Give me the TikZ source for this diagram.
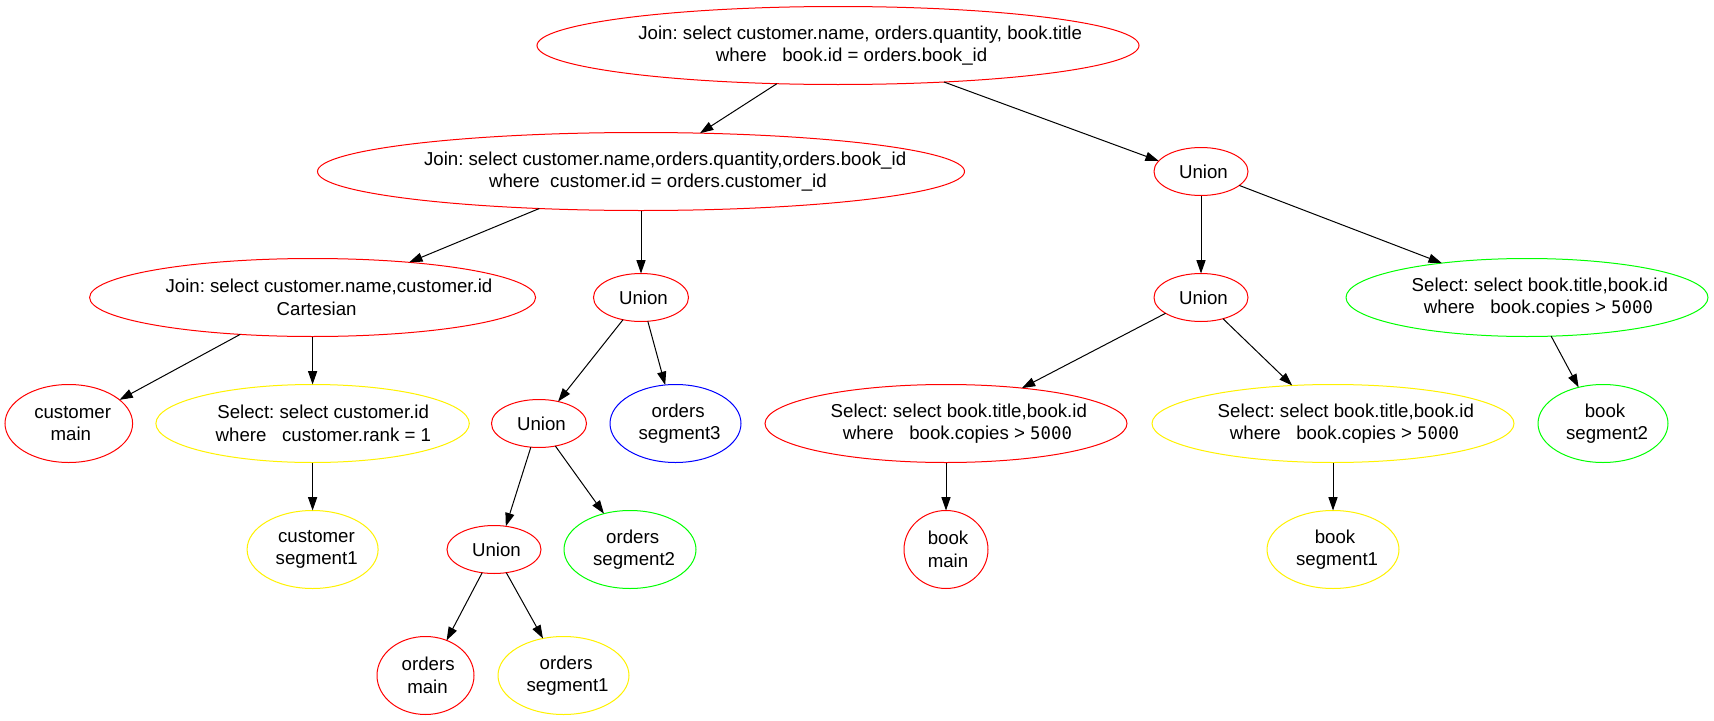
\documentclass[tikz,border=0pt]{standalone}
\usepackage{fontspec}
\usetikzlibrary{shapes.geometric,arrows.meta}
\newfontfamily\gvmain{Liberation Sans}
\newfontfamily\gvmono{DejaVu Sans Mono}
% each label line is set with zero width, slightly shifted to the right
\newlength\gvw
\newcommand\gvline[1]{\settowidth{\gvw}{#1}\makebox[0pt]{\hspace*{0.1\gvw}#1}}
\newcommand\gvnum[1]{{\gvmono\fontsize{13}{16.8}\selectfont #1}}
\tikzset{
  gv/.style={ellipse, draw, line width=0.75pt, inner sep=0pt, outer sep=0pt,
    align=center, text=black, font=\gvmain\fontsize{14}{16.8}\selectfont\frenchspacing},
  sz/.style 2 args={minimum width=#1*1.5pt, minimum height=#2*1.5pt},
  conn/.style={draw, line width=0.75pt, -{Triangle[length=10pt,width=6.8pt]}}
}
\begin{document}
\begin{tikzpicture}[x=0.75pt,y=-0.75pt]
\useasboundingbox[fill=white] (0,0) rectangle (1714,721);

% rank 0
\node[gv, draw=red, sz={301}{39}] (j1) at (838,45.5)
  {\gvline{Join: select customer.name, orders.quantity, book.title}\\
   \gvline{where\ \ \ book.id = orders.book\_id}};
% rank 1
\node[gv, draw=red, sz={323.5}{39}] (j2) at (641,171.5)
  {\gvline{Join: select customer.name,orders.quantity,orders.book\_id}\\
   \gvline{where\ \ customer.id = orders.customer\_id}};
\node[gv, draw=red, sz={47}{24}] (u1) at (1201,171.5) {\gvline{Union}};
% rank 2
\node[gv, draw=red, sz={223}{39}] (j3) at (312.6,297.5)
  {\gvline{Join: select customer.name,customer.id}\\\gvline{Cartesian}};
\node[gv, draw=red, sz={47.5}{24}] (u2) at (641,297.5) {\gvline{Union}};
\node[gv, draw=red, sz={47}{24}] (u3) at (1201,297.5) {\gvline{Union}};
\node[gv, draw=green, sz={181}{39}] (s1) at (1527,297.5)
  {\gvline{Select: select book.title,book.id}\\
   \gvline{where\ \ \ book.copies > \gvnum{5000}}};
% rank 3
\node[gv, draw=red, sz={63.8}{39}] (cm) at (68.8,423.5)
  {\gvline{customer}\\\gvline{main}};
\node[gv, draw=yellow, sz={156.7}{39}] (sc) at (312.6,423.5)
  {\gvline{Select: select customer.id}\\
   \gvline{where\ \ \ customer.rank = 1}};
\node[gv, draw=red, sz={47.5}{24}] (u4) at (539,423.5) {\gvline{Union}};
\node[gv, draw=blue, sz={65.5}{39}] (o3) at (675.5,423.5)
  {\gvline{orders}\\\gvline{segment3}};
\node[gv, draw=red, sz={181}{39}] (sb1) at (946,423.5)
  {\gvline{Select: select book.title,book.id}\\
   \gvline{where\ \ \ book.copies > \gvnum{5000}}};
\node[gv, draw=yellow, sz={181}{39}] (sb2) at (1333,423.5)
  {\gvline{Select: select book.title,book.id}\\
   \gvline{where\ \ \ book.copies > \gvnum{5000}}};
\node[gv, draw=green, sz={65}{39}] (b2) at (1603,423.5)
  {\gvline{book}\\\gvline{segment2}};
% rank 4
\node[gv, draw=yellow, sz={65.5}{39}] (cs1) at (312.6,549.5)
  {\gvline{customer}\\\gvline{segment1}};
\node[gv, draw=red, sz={47}{24}] (u5) at (494,549.5) {\gvline{Union}};
\node[gv, draw=green, sz={66}{39}] (o2) at (630,549.5)
  {\gvline{orders}\\\gvline{segment2}};
\node[gv, draw=red, sz={42}{39}] (bm) at (946,549.5)
  {\gvline{book}\\\gvline{main}};
\node[gv, draw=yellow, sz={66}{39}] (b1) at (1333,549.5)
  {\gvline{book}\\\gvline{segment1}};
% rank 5
\node[gv, draw=red, sz={48.5}{39}] (om) at (425.5,675.5)
  {\gvline{orders}\\\gvline{main}};
\node[gv, draw=yellow, sz={65.5}{39}] (o1) at (563.5,675.5)
  {\gvline{orders}\\\gvline{segment1}};

% connectors
\draw[conn] (j1.212) -- (j2.33);
\draw[conn] (j1.-19.4) -- (u1.166);
\draw[conn] (j2.200.8) -- (j3.20.6);
\draw[conn] (j2.south) -- (u2.north);
\draw[conn] (u1.south) -- (u3.north);
\draw[conn] (u1.-20.7) -- (s1.158);
\draw[conn] (j3.207.2) -- (cm.25);
\draw[conn] (j3.south) -- (sc.north);
\draw[conn] (u2.231) -- (u4.49);
\draw[conn] (u2.-74.8) -- (o3.105.8);
\draw[conn] (sc.south) -- (cs1.north);
\draw[conn] (u3.204.6) -- (sb1.25.7);
\draw[conn] (u3.-44.7) -- (sb2.137.5);
\draw[conn] (s1.-58.7) -- (b2.124.2);
\draw[conn] (u4.251.7) -- (u5.63);
\draw[conn] (u4.-54.3) -- (o2.126);
\draw[conn] (sb1.south) -- (bm.north);
\draw[conn] (sb2.south) -- (b1.north);
\draw[conn] (u5.243.3) -- (om.59.6);
\draw[conn] (u5.-62.6) -- (o1.119.3);
\end{tikzpicture}
\end{document}
